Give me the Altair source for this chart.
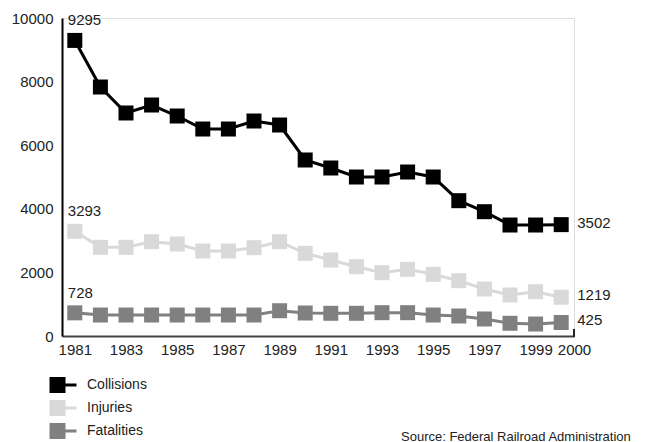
import altair as alt
import pandas as pd

years = list(range(1981, 2001))
collisions = [9295, 7830, 7013, 7264, 6918, 6509, 6509, 6761, 6635, 5535,
              5283, 5000, 5000, 5157, 5000, 4255, 3909, 3490, 3490, 3502]
injuries = [3293, 2789, 2789, 2965, 2893, 2673, 2673, 2777, 2965, 2600,
            2390, 2179, 1990, 2097, 1940, 1739, 1478, 1289, 1393, 1219]
fatalities = [728, 660, 660, 660, 660, 660, 660, 660, 795, 723,
              714, 714, 733, 733, 660, 629, 535, 400, 377, 425]
series_names = ["Collisions", "Injuries", "Fatalities"]
series_colors = ["#000000", "#d9d9d9", "#808080"]
# the last tick label ("2000") sits at the right end of the axis
x_tick_positions = [1981, 1983, 1985, 1987, 1989, 1991, 1993, 1995, 1997, 1999, 2000.5]
y_ticks = [0, 2000, 4000, 6000, 8000, 10000]
source_text = "Source: Federal Railroad Administration"

FONT = "Liberation Sans, Arial, sans-serif"

rows = []
for name, vals in zip(series_names, [collisions, injuries, fatalities]):
    for yr, v in zip(years, vals):
        rows.append({"year": yr, "value": v, "series": name})
df = pd.DataFrame(rows)

first_df = df[df["year"] == years[0]].copy()
last_df = df[df["year"] == years[-1]].copy()
first_df["label"] = first_df["value"].astype(str)
last_df["label"] = last_df["value"].astype(str)

legend_path = ("M-1.6875,-1 L0.3125,-1 L0.3125,1 L-1.6875,1 Z "
               "M0.3125,-0.19 L1.6875,-0.19 L1.6875,0.19 L0.3125,0.19 Z")

legend = alt.Legend(
    title=None, orient="none", legendX=-7, legendY=359, direction="vertical",
    symbolType=legend_path, symbolSize=256, symbolStrokeWidth=0, symbolOpacity=1,
    labelFont=FONT, labelFontSize=14, labelColor="#222", labelOffset=16,
    rowPadding=7,
)
color = alt.Color("series:N", scale=alt.Scale(domain=series_names, range=series_colors),
                  legend=legend)

x = alt.X("year:Q", scale=alt.Scale(domain=[1980.5, 2000.5], nice=False, zero=False),
          axis=alt.Axis(values=x_tick_positions, title=None, grid=False, ticks=False,
                        labelExpr="format(floor(datum.value), 'd')",
                        domainColor="#444", domainWidth=2, labelFont=FONT, labelFontSize=15,
                        labelColor="#222", labelPadding=6, labelFlush=False,
                        labelOverlap=False))
y = alt.Y("value:Q", scale=alt.Scale(domain=[0, 10000], nice=False),
          axis=alt.Axis(values=y_ticks, format="d", title=None, grid=False, ticks=False,
                        domainColor="black", domainWidth=2, labelFont=FONT,
                        labelFontSize=15, labelColor="#222", labelPadding=9))

base = alt.Chart(df)
points = base.mark_point(shape="square", filled=True, size=225, opacity=1).encode(
    x=x, y=y, color=color)
lines = base.mark_line(strokeWidth=3).encode(x=x, y=y, color=color)

left_labels = alt.Chart(first_df).mark_text(
    align="left", baseline="middle", dx=-7, dy=-20, font=FONT, fontSize=15, color="#222"
).encode(x="year:Q", y="value:Q", text="label:N")
right_labels = alt.Chart(last_df).mark_text(
    align="left", baseline="middle", dx=16, dy=-2, font=FONT, fontSize=15, color="#222"
).encode(x="year:Q", y="value:Q", text="label:N")

end_tick = alt.Chart(pd.DataFrame({"year": [2000.5]})).mark_rule(
    color="#222", strokeWidth=2).encode(x="year:Q", y=alt.value(311), y2=alt.value(319))

source = alt.Chart(pd.DataFrame({"t": [source_text]})).mark_text(
    align="left", baseline="middle", font=FONT, fontSize=13, color="#222"
).encode(x=alt.value(339), y=alt.value(419), text="t:N")

chart = alt.layer(points, lines, left_labels, right_labels, end_tick, source).properties(
    width=512, height=318,
    padding={"left": 54, "top": 10, "right": 64, "bottom": 110},
    autosize=alt.AutoSizeParams(type="none"),
).configure_view(stroke=None).configure(background="white")

chart.save("out.html", embed_options={"renderer": "svg", "actions": False})
